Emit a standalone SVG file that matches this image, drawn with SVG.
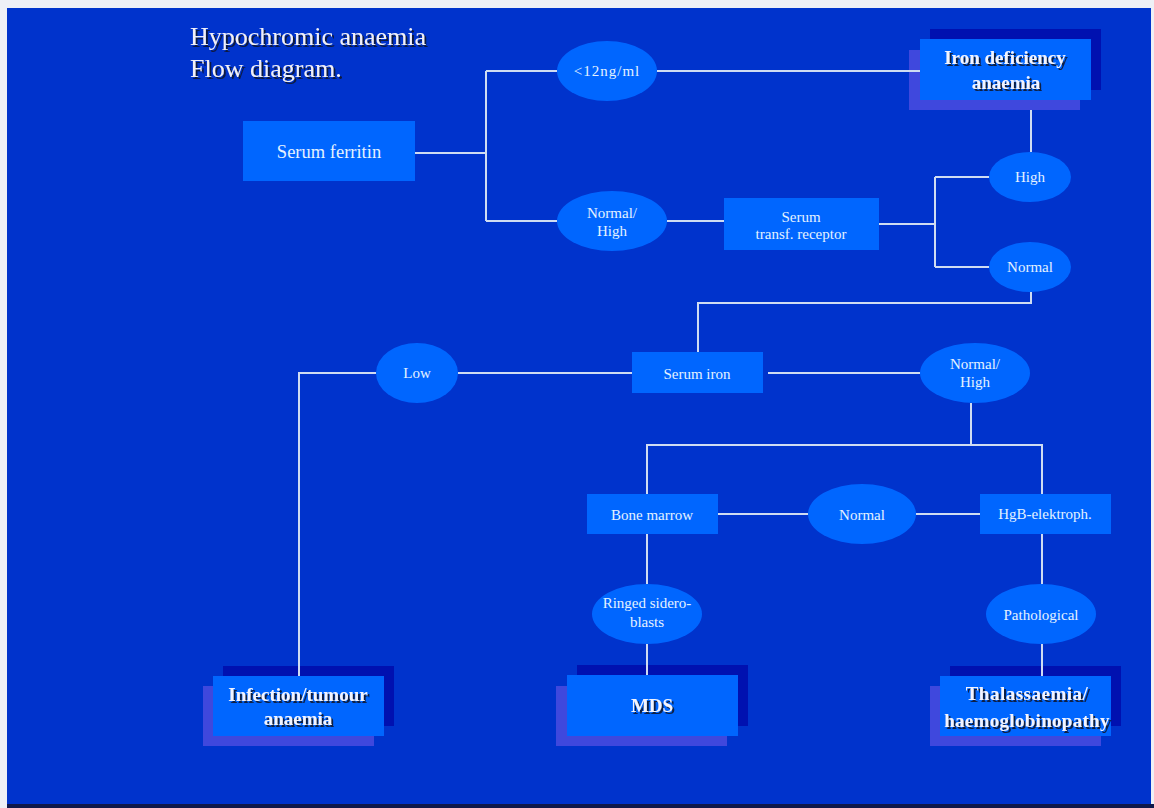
<svg xmlns="http://www.w3.org/2000/svg" width="1154" height="808" viewBox="0 0 1154 808">
<defs>
<filter id="sh" x="-10%" y="-30%" width="130%" height="170%">
<feDropShadow dx="2" dy="2" stdDeviation="0.7" flood-color="#101830" flood-opacity="0.9"/>
</filter>
<style>
.bg{fill:#0033cc}
.box{fill:#0066ff}
.dk{fill:#0011b0}
.lt{fill:#3f48dd}
.el{fill:#0066ff}
.t{font-family:"Liberation Serif","Times New Roman",serif;font-size:15px;fill:#e4f2ff;text-anchor:middle}
.b{font-family:"Liberation Serif","Times New Roman",serif;font-size:19px;font-weight:bold;fill:#f2f4ff;text-anchor:middle;filter:url(#sh)}
.title{font-family:"Liberation Serif","Times New Roman",serif;font-size:26px;fill:#f0f0f8;filter:url(#sh)}
.c{stroke:#cfdcf2;stroke-width:2;fill:none}
</style>
</defs>
<rect x="0" y="0" width="1154" height="808" fill="#eef0f6"/>
<rect class="bg" x="7" y="8" width="1144" height="797"/>
<rect x="7" y="804" width="1147" height="4" fill="#10184a"/>

<g id="title">
<text class="title" x="190" y="45">Hypochromic anaemia</text>
<text class="title" x="190" y="77">Flow diagram.</text>
</g>

<g id="serum-ferritin">
<rect class="box" x="243" y="121" width="172" height="60"/>
<text class="t" x="329" y="158" style="font-size:18.5px">Serum ferritin</text>
</g>
<g id="lt12">
<ellipse class="el" cx="607" cy="71" rx="50" ry="30"/>
<text class="t" x="607" y="76" style="letter-spacing:1px">&lt;12ng/ml</text>
</g>
<g id="iron-deficiency">
<rect class="dk" x="930" y="29" width="171" height="61"/>
<rect class="lt" x="909" y="50" width="171" height="60"/>
<rect class="box" x="920" y="39" width="171" height="61"/>
<text class="b" x="1005" y="64">Iron deficiency</text>
<text class="b" x="1006" y="89">anaemia</text>
</g>
<g id="normal-high-1">
<ellipse class="el" cx="612" cy="221" rx="55" ry="30"/>
<text class="t" x="612" y="218">Normal/</text>
<text class="t" x="612" y="236">High</text>
</g>
<g id="transf-receptor">
<rect class="box" x="724" y="198" width="155" height="52"/>
<text class="t" x="801" y="222">Serum</text>
<text class="t" x="801" y="239">transf. receptor</text>
</g>
<g id="high">
<ellipse class="el" cx="1030" cy="177" rx="41" ry="25"/>
<text class="t" x="1030" y="182">High</text>
</g>
<g id="normal-1">
<ellipse class="el" cx="1030" cy="267" rx="41" ry="25"/>
<text class="t" x="1030" y="272">Normal</text>
</g>
<g id="serum-iron">
<rect class="box" x="632" y="352" width="131" height="41"/>
<text class="t" x="697" y="379">Serum iron</text>
</g>
<g id="low">
<ellipse class="el" cx="417" cy="373" rx="41" ry="30"/>
<text class="t" x="417" y="378">Low</text>
</g>
<g id="normal-high-2">
<ellipse class="el" cx="975" cy="373" rx="55" ry="30"/>
<text class="t" x="975" y="369">Normal/</text>
<text class="t" x="975" y="387">High</text>
</g>
<g id="bone-marrow">
<rect class="box" x="587" y="494" width="131" height="40"/>
<text class="t" x="652" y="520">Bone marrow</text>
</g>
<g id="normal-2">
<ellipse class="el" cx="862" cy="514" rx="54" ry="30"/>
<text class="t" x="862" y="520">Normal</text>
</g>
<g id="hgb">
<rect class="box" x="980" y="494" width="131" height="40"/>
<text class="t" x="1045" y="519">HgB-elektroph.</text>
</g>
<g id="ringed">
<ellipse class="el" cx="647" cy="614" rx="55" ry="30"/>
<text class="t" x="647" y="608">Ringed sidero-</text>
<text class="t" x="647" y="627">blasts</text>
</g>
<g id="pathological">
<ellipse class="el" cx="1041" cy="614" rx="55" ry="30"/>
<text class="t" x="1041" y="620">Pathological</text>
</g>
<g id="infection">
<rect class="dk" x="223" y="666" width="171" height="60"/>
<rect class="lt" x="203" y="686" width="171" height="60"/>
<rect class="box" x="213" y="676" width="171" height="60"/>
<text class="b" x="298" y="701">Infection/tumour</text>
<text class="b" x="298" y="725">anaemia</text>
</g>
<g id="mds">
<rect class="dk" x="577" y="665" width="171" height="61"/>
<rect class="lt" x="556" y="686" width="171" height="60"/>
<rect class="box" x="567" y="675" width="171" height="61"/>
<text class="b" x="652" y="712">MDS</text>
</g>
<g id="thalassaemia">
<rect class="dk" x="950" y="666" width="171" height="60"/>
<rect class="lt" x="930" y="686" width="171" height="60"/>
<rect class="box" x="940" y="676" width="171" height="60"/>
<text class="b" x="1027" y="700" style="letter-spacing:0.5px">Thalassaemia/</text>
<text class="b" x="1027" y="727" style="letter-spacing:0.3px">haemoglobinopathy</text>
</g>

<g id="connectors">
<path class="c" d="M415 153H486"/>
<path class="c" d="M486 71V221"/>
<path class="c" d="M486 71H557"/>
<path class="c" d="M486 221H557"/>
<path class="c" d="M657 71H920"/>
<path class="c" d="M667 221H724"/>
<path class="c" d="M879 224H935"/>
<path class="c" d="M935 177V267"/>
<path class="c" d="M935 177H989"/>
<path class="c" d="M935 267H989"/>
<path class="c" d="M1031 110V152"/>
<path class="c" d="M1031 292V303H698V352"/>
<path class="c" d="M632 373H458"/>
<path class="c" d="M376 373H299V676"/>
<path class="c" d="M768 373H920"/>
<path class="c" d="M971 403V445"/>
<path class="c" d="M647 494V445H1042V494"/>
<path class="c" d="M718 514H808"/>
<path class="c" d="M916 514H980"/>
<path class="c" d="M647 534V584"/>
<path class="c" d="M647 644V675"/>
<path class="c" d="M1042 534V584"/>
<path class="c" d="M1042 644V676"/>
</g>
</svg>
